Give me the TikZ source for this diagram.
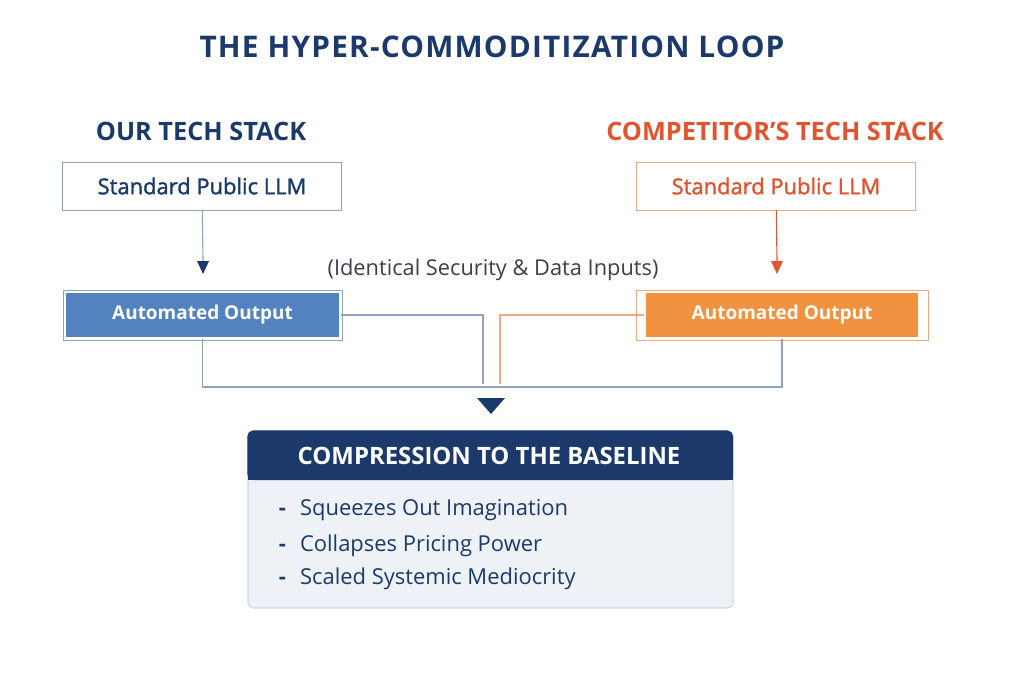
\documentclass[tikz,border=0pt]{standalone}
\usepackage{fontspec}
\setmainfont{Open Sans}
\definecolor{navy}{HTML}{1B3A6B}
\definecolor{rust}{HTML}{E0552F}
\definecolor{orangefill}{HTML}{F0923F}
\definecolor{bluefill}{HTML}{5283BE}
\definecolor{edgeblue}{HTML}{8FA3BD}
\definecolor{edgeorange}{HTML}{F2A883}
\definecolor{paleblue}{HTML}{EEF1F6}
\definecolor{inkgray}{HTML}{3A3F4A}
\begin{document}
\begin{tikzpicture}[x=0.025cm,y=-0.025cm,
	stackbox/.style={draw=#1,line width=0.7pt,fill=white,minimum width=6.95cm,minimum height=1.2cm,inner sep=0pt},
	outbox/.style={fill=#1,draw=white,line width=1.4pt,minimum width=6.85cm,minimum height=1.15cm,inner sep=0pt,text=white,font=\bfseries\fontsize{13.5}{16}\selectfont},
	link/.style={draw=#1,line width=0.8pt},
	head/.style={font=\bfseries\fontsize{18}{21}\selectfont},
	bullet/.style={navy,anchor=west,font=\fontsize{15.6}{18}\selectfont}]
	\useasboundingbox (0,0) rectangle (1024,683);
	% title and the two stacks
	\node[navy,font=\bfseries\fontsize{21.2}{25}\selectfont\addfontfeatures{LetterSpace=4}] (title) at (492,47) {THE HYPER-COMMODITIZATION LOOP};
	\node[head,navy] (ours) at (201,131) {OUR TECH STACK};
	\node[head,rust] (theirs) at (775,131) {COMPETITOR’S TECH STACK};
	\node[stackbox=edgeblue,text=navy,font=\fontsize{15.6}{18}\selectfont\addfontfeatures{FakeBold=1.5}] (llmL) at (202,186) {Standard Public LLM};
	\node[stackbox=edgeorange,text=rust,font=\fontsize{15.6}{18}\selectfont\addfontfeatures{FakeBold=1.5}] (llmR) at (776,186) {Standard Public LLM};
	\coordinate (tipL) at (203,261);
	\coordinate (tipR) at (777,261);
	\draw[link=edgeblue] (llmL) -- (tipL);
	\draw[link=rust] (llmR) -- (tipR);
	\fill[navy] (tipL) ++(-6,0) -- ++(12,0) -- ++(-6,13) -- cycle;
	\fill[rust] (tipR) ++(-6,0) -- ++(12,0) -- ++(-6,13) -- cycle;
	\node[inkgray,font=\fontsize{15.5}{18}\selectfont] (inputs) at (493,270) {(Identical Security \& Data Inputs)};
	% outputs
	\node[outbox=bluefill] (outL) at (202.5,315) {Automated Output};
	\node[outbox=orangefill] (outR) at (782,315) {Automated Output};
	\draw[edgeblue,line width=0.6pt] (63,290) rectangle (342,340);
	\draw[edgeorange,line width=0.6pt] (636,290) rectangle (928,340);
	\coordinate (joinL) at (483,384);
	\coordinate (joinR) at (500,384);
	\draw[link=edgeblue] (outL.east) -| (joinL);
	\draw[link=edgeorange] (outR.west) -| (joinR);
	\draw[link=edgeblue] (outL.south) -- ++(0,48) -| (outR.south);
	\coordinate (tipM) at (491,398);
	\fill[navy] (tipM) ++(-14,0) -- ++(28,0) -- ++(-14,16) -- cycle;
	% the baseline
	\node[fill=paleblue,draw=edgeblue!45,line width=0.8pt,rounded corners=4pt,minimum width=12.125cm,minimum height=4.425cm] (base) at (490.5,519.5) {};
	\fill[navy,rounded corners=4pt] (base.north west) rectangle (733,480);
	\fill[navy] (248,462) rectangle (733,480);
	\node[white,font=\bfseries\fontsize{17}{20}\selectfont] (basehead) at (489,456) {COMPRESSION TO THE BASELINE};
	\node[bullet] (b1) at (274,510) {\textbf{-}\hspace{10pt}Squeezes Out Imagination};
	\node[bullet] (b2) at (274,546) {\textbf{-}\hspace{10pt}Collapses Pricing Power};
	\node[bullet] (b3) at (274,579) {\textbf{-}\hspace{10pt}Scaled Systemic Mediocrity};
\end{tikzpicture}
\end{document}
